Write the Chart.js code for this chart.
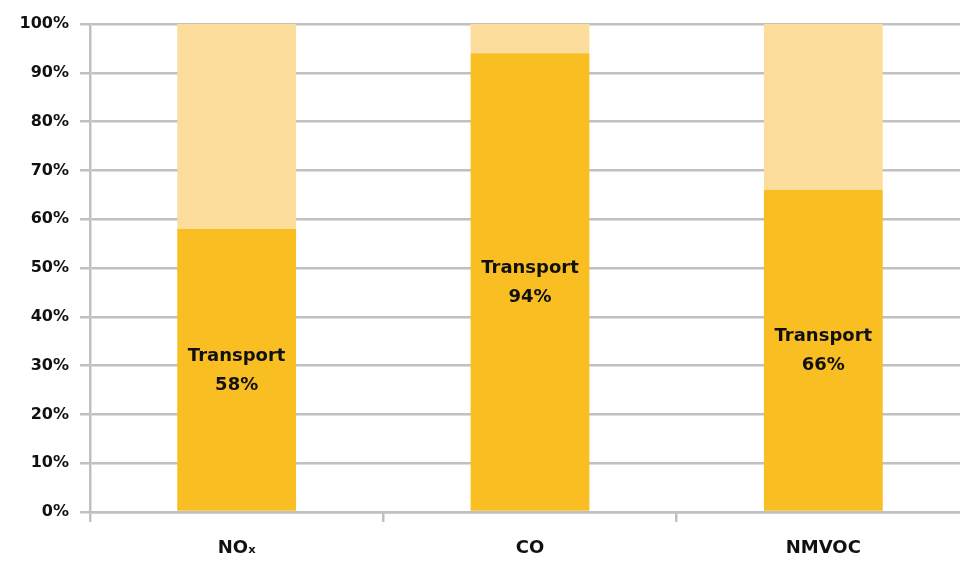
<!DOCTYPE html>
<html>
<head>
<meta charset="utf-8">
<script src="https://cdn.jsdelivr.net/npm/chart.js@4/dist/chart.umd.min.js"></script>
<style>
  html, body { margin: 0; padding: 0; background: #fff; overflow: hidden; }
  #wrap { width: 960px; height: 567px; overflow: hidden; }
</style>
</head>
<body>
<div id="wrap"><canvas id="chart" width="970" height="567"></canvas></div>
<script>
// Share of emissions from transport, per pollutant
const pollutants = ['NOₓ', 'CO', 'NMVOC'];
const transportShare = [58, 94, 66];
const otherShare = [42, 6, 34];
const yTicks = [0, 10, 20, 30, 40, 50, 60, 70, 80, 90, 100];

const labelFont = "'DejaVu Sans', sans-serif";
const gridGrey = '#c0c0c0';

// Writes "Transport / NN%" in the middle of each transport bar
const barLabels = {
    id: 'barLabels',
    afterDatasetsDraw(chart) {
        const ctx = chart.ctx;
        const meta = chart.getDatasetMeta(0);
        ctx.save();
        ctx.fillStyle = '#111';
        ctx.font = 'bold 18px ' + labelFont;
        ctx.textAlign = 'center';
        ctx.textBaseline = 'middle';
        meta.data.forEach(function(bar, i) {
            let mid = (bar.y + bar.base) / 2;
            ctx.fillText('Transport', bar.x, mid - 14);
            ctx.fillText(transportShare[i] + '%', bar.x, mid + 15);
        });
        ctx.restore();
    }
};

let ctx = document.getElementById('chart').getContext('2d');
let chart = new Chart(ctx, {
    type: 'bar',
    data: {
        labels: pollutants,
        datasets: [{
            label: 'Transport',
            data: transportShare,
            backgroundColor: '#F8BE22'
        }, {
            label: 'Other',
            data: otherShare,
            backgroundColor: '#FDDD9C'
        }]
    },
    options: {
        responsive: false,
        animation: false,
        categoryPercentage: 1,
        barPercentage: 0.405,
        layout: { padding: { top: 24, right: 0, left: 0, bottom: 0 } },
        plugins: {
            legend: { display: false },
            tooltip: { enabled: false }
        },
        scales: {
            x: {
                stacked: true,
                grid: {
                    offset: true,
                    drawOnChartArea: false,
                    drawTicks: true,
                    tickLength: 10,
                    color: gridGrey,
                    lineWidth: 2.5
                },
                border: { color: gridGrey, width: 2.5 },
                ticks: {
                    color: '#111',
                    padding: 16,
                    font: { family: labelFont, size: 18, weight: 'bold' }
                },
                afterFit: function(scale) { scale.height = 55; }
            },
            y: {
                stacked: true,
                min: 0,
                max: 100,
                afterBuildTicks: function(scale) {
                    scale.ticks = yTicks.map(v => ({ value: v }));
                },
                grid: {
                    color: gridGrey,
                    lineWidth: 2.5,
                    tickLength: 10
                },
                border: { color: gridGrey, width: 2.5 },
                ticks: {
                    color: '#111',
                    padding: 11,
                    font: { family: labelFont, size: 16, weight: 'bold' },
                    callback: function(v) { return v + '%'; }
                },
                afterFit: function(scale) { scale.width = 90; }
            }
        }
    },
    plugins: [barLabels]
});
</script>
</body>
</html>
